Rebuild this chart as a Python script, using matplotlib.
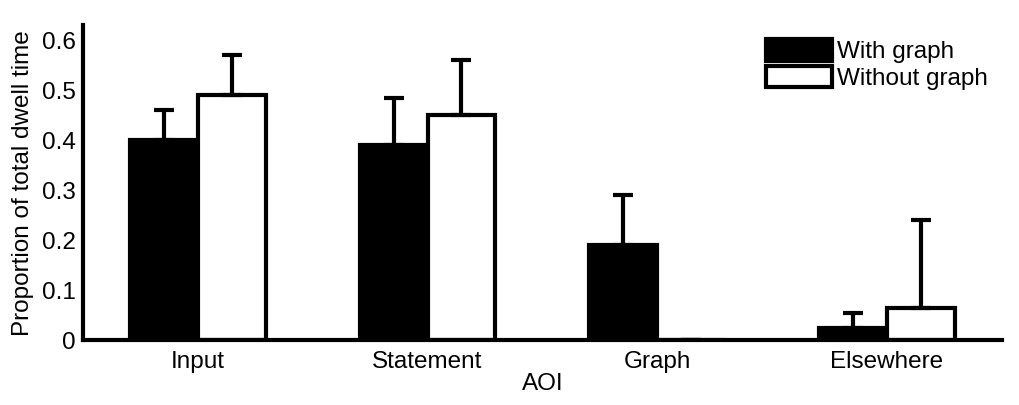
import matplotlib
matplotlib.use("Agg")
from matplotlib import pyplot as plt
import numpy as np

# data
aoi = ["Input", "Statement", "Graph", "Elsewhere"]
with_graph = [0.40, 0.39, 0.19, 0.025]
with_graph_err = [0.06, 0.095, 0.10, 0.03]
without_graph = [0.49, 0.45, 0.0, 0.065]
without_graph_err = [0.08, 0.11, 0.0, 0.175]

plt.rcParams["font.family"] = ["Liberation Sans", "DejaVu Sans"]
plt.rcParams["font.size"] = 17.5

fig = plt.figure(figsize=(10.19, 4.05), dpi=100)
ax = fig.add_axes([0.0815, 0.160, 0.9015, 0.778])

x = np.arange(len(aoi))
w = 0.295
lw = 3
errkw = dict(elinewidth=lw, capsize=7, capthick=lw, ecolor="black")

ax.bar(x - w / 2, with_graph, w, color="black", edgecolor="black",
       linewidth=lw, label="With graph",
       yerr=[np.zeros(4), with_graph_err], error_kw=errkw)
ax.bar(x + w / 2, without_graph, w, color="white", edgecolor="black",
       linewidth=lw, label="Without graph",
       yerr=[np.zeros(4), without_graph_err], error_kw=errkw)

ax.set_xlim(-0.5, 3.5)
ax.set_ylim(0, 0.63)
ax.set_xticks(x)
ax.set_xticklabels(aoi)
ax.set_yticks([0, 0.1, 0.2, 0.3, 0.4, 0.5, 0.6])
ax.set_yticklabels(["0", "0.1", "0.2", "0.3", "0.4", "0.5", "0.6"])
ax.tick_params(axis="y", length=0, pad=5)
ax.tick_params(axis="x", length=0, pad=8)
ax.set_xlabel("AOI", labelpad=0)
ax.set_ylabel("Proportion of total dwell time", labelpad=6)

for s in ["top", "right"]:
    ax.spines[s].set_visible(False)
for s in ["left", "bottom"]:
    ax.spines[s].set_linewidth(lw)

ax.legend(loc="upper right", bbox_to_anchor=(1.003, 1.01), frameon=False,
          handlelength=2.7, handleheight=1.0, handletextpad=0.2,
          labelspacing=0.1, borderaxespad=0.3)

fig.savefig("out.png", dpi=100)
